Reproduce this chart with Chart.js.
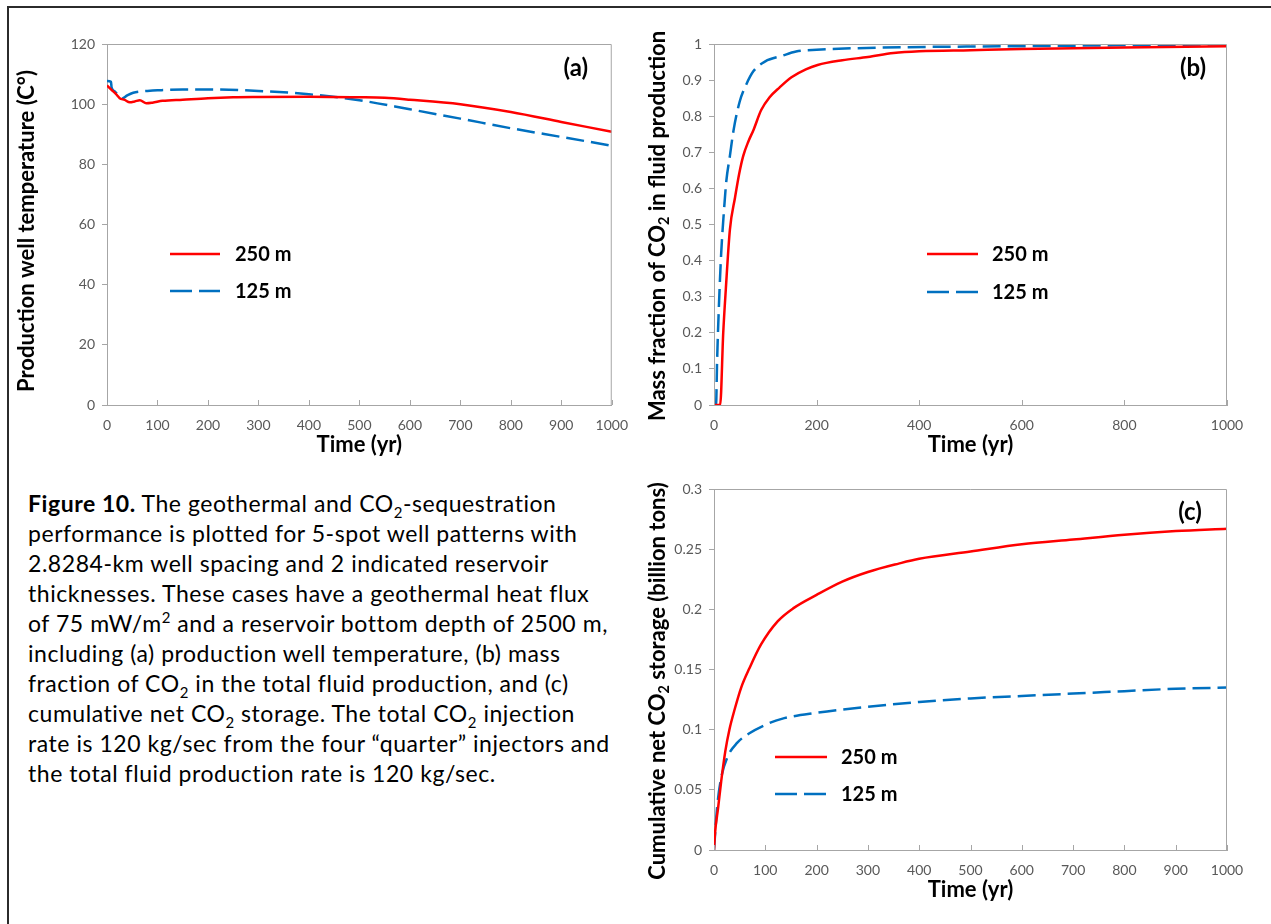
<!DOCTYPE html>
<html>
<head>
<meta charset="utf-8">
<script src="https://cdn.jsdelivr.net/npm/chart.js@4.4.1/dist/chart.umd.min.js"></script>
<style>
  body { margin: 0; background: #fff; width: 1271px; height: 924px; overflow: hidden; position: relative; font-family: Lato, "Open Sans", sans-serif; }
  .frame { position: absolute; left: 7px; top: 6px; width: 1400px; height: 1000px; border-top: 2px solid #2b2b2b; border-left: 2px solid #2b2b2b; }
  canvas { position: absolute; }
  #chartA { left: 0; top: 20px; }
  #chartB { left: 640px; top: 20px; }
  #chartC { left: 640px; top: 465px; }
  .caption { position: absolute; left: 28px; top: 488px; font-size: 23px; letter-spacing: 0.55px; line-height: 30px; color: #000; white-space: nowrap; }
  .caption sub, .caption sup { font-size: 65%; line-height: 0; }
</style>
</head>
<body>
<div class="frame"></div>
<canvas id="chartA" width="640" height="450"></canvas>
<canvas id="chartB" width="631" height="450"></canvas>
<canvas id="chartC" width="631" height="459"></canvas>
<div class="caption">
<b>Figure 10.</b> The geothermal and CO<sub>2</sub>-sequestration<br>
performance is plotted for 5-spot well patterns with<br>
2.8284-km well spacing and 2 indicated reservoir<br>
thicknesses. These cases have a geothermal heat flux<br>
of 75 mW/m<sup>2</sup> and a reservoir bottom depth of 2500 m,<br>
including (a) production well temperature, (b) mass<br>
fraction of CO<sub>2</sub> in the total fluid production, and (c)<br>
cumulative net CO<sub>2</sub> storage. The total CO<sub>2</sub> injection<br>
rate is 120 kg/sec from the four “quarter” injectors and<br>
the total fluid production rate is 120 kg/sec.
</div>
<script>
// (a) production well temperature, C
const tempTime250 = [0, 10, 18, 25, 35, 45, 55, 65, 78, 90, 110, 150, 200, 250, 300, 400, 500, 550, 600, 700, 800, 900, 1000];
const temp250 = [106.2, 104.6, 103.3, 102.0, 101.4, 100.6, 100.9, 101.3, 100.3, 100.5, 101.1, 101.5, 102.0, 102.3, 102.4, 102.5, 102.3, 102.1, 101.5, 100.0, 97.4, 94.1, 90.8];
const tempTime125 = [0, 8, 9, 15, 22, 30, 40, 52, 65, 80, 100, 150, 200, 300, 400, 500, 600, 700, 800, 900, 1000];
const temp125 = [107.7, 107.4, 105.6, 104.3, 103.0, 101.9, 102.9, 103.8, 104.2, 104.4, 104.6, 104.9, 104.9, 104.4, 103.3, 101.3, 98.3, 95.2, 92.0, 89.1, 86.2];

// (b) mass fraction of CO2 in fluid production
const fracTime250 = [0, 12, 18, 23, 31, 41, 49, 57, 67, 77, 92, 108, 128, 151, 179, 202, 250, 300, 350, 400, 500, 600, 800, 1000];
const frac250 = [0, 0, 0.2, 0.32, 0.486, 0.575, 0.64, 0.69, 0.73, 0.762, 0.817, 0.852, 0.88, 0.908, 0.93, 0.942, 0.955, 0.964, 0.975, 0.98, 0.983, 0.986, 0.99, 0.994];
const fracTime125 = [0, 4, 6, 10, 14, 19, 24, 31, 38, 50, 62, 77, 100, 132, 160, 200, 330, 600, 1000];
const frac125 = [0, 0, 0.12, 0.29, 0.42, 0.53, 0.62, 0.69, 0.76, 0.84, 0.885, 0.925, 0.952, 0.967, 0.979, 0.984, 0.99, 0.994, 0.999];

// (c) cumulative net CO2 storage, billion tons
const storTime250 = [0, 2, 8, 14, 22, 30, 41, 53, 69, 92, 124, 155, 200, 250, 300, 360, 400, 500, 600, 700, 800, 900, 1000];
const stor250 = [0, 0.014, 0.035, 0.057, 0.082, 0.1, 0.118, 0.135, 0.151, 0.171, 0.19, 0.201, 0.212, 0.223, 0.231, 0.238, 0.242, 0.248, 0.254, 0.258, 0.262, 0.265, 0.267];
const storTime125 = [0, 6, 14, 26, 45, 69, 100, 132, 200, 300, 400, 500, 600, 700, 800, 900, 1000];
const stor125 = [0, 0.035, 0.06, 0.077, 0.089, 0.097, 0.104, 0.109, 0.114, 0.119, 0.123, 0.126, 0.128, 0.13, 0.132, 0.134, 0.135];

const seriesNames = ["250 m", "125 m"];

const RED = "#ff0000";
const BLUE = "#0070c0";
const AXIS = "#a6a6a6";
const TICK = "#595959";
const FONT = "Lato, 'Open Sans', sans-serif";

function pts(xs, ys) {
  return xs.map((x, i) => ({ x: x, y: ys[i] }));
}

// draws text made of parts, some of them subscript, centred on (x, y)
function drawRich(ctx, parts, x, y, size) {
  let total = 0;
  parts.forEach((p) => {
    ctx.font = "bold " + (p.sub ? size * 0.65 : size) + "px " + FONT;
    p.w = ctx.measureText(p.t).width;
    total += p.w;
  });
  let cx = x - total / 2;
  ctx.textAlign = "left";
  ctx.textBaseline = "middle";
  parts.forEach((p) => {
    ctx.font = "bold " + (p.sub ? size * 0.65 : size) + "px " + FONT;
    ctx.fillText(p.t, cx, y + (p.sub ? size * 0.3 : 0));
    cx += p.w;
  });
}

const deco = {
  id: "deco",
  afterDraw(chart, args, o) {
    const ctx = chart.ctx;
    const a = chart.chartArea;
    ctx.save();
    // plot area border, top and right
    ctx.strokeStyle = AXIS;
    ctx.lineWidth = 1;
    ctx.beginPath();
    ctx.moveTo(a.left, a.top + 0.5);
    ctx.lineTo(a.right - 0.5, a.top + 0.5);
    ctx.lineTo(a.right - 0.5, a.bottom);
    ctx.stroke();
    // x tick marks point inward
    const xs = chart.scales.x;
    ctx.beginPath();
    xs.ticks.forEach((t) => {
      const px = Math.round(xs.getPixelForValue(t.value)) + 0.5;
      ctx.moveTo(px, a.bottom);
      ctx.lineTo(px, a.bottom - 5);
    });
    ctx.stroke();

    ctx.fillStyle = "#000";
    // y title
    ctx.save();
    ctx.translate(o.yTitleX, o.yTitleY);
    ctx.rotate(-Math.PI / 2);
    drawRich(ctx, o.yTitle, 0, 0, o.titleSize);
    ctx.restore();
    // x title
    drawRich(ctx, [{ t: "Time (yr)" }], (a.left + a.right) / 2, a.bottom + o.xTitleDy, o.titleSize);
    // panel label
    drawRich(ctx, [{ t: o.panel }], a.right - o.panelDx, a.top + o.panelDy, 24);

    // legend
    chart.data.datasets.forEach((ds, i) => {
      const y = a.top + o.legY[i];
      ctx.strokeStyle = ds.borderColor;
      ctx.lineWidth = ds.borderWidth;
      ctx.setLineDash(ds.borderDash ? [22, 7] : []);
      ctx.beginPath();
      ctx.moveTo(a.left + o.legX[0], y);
      ctx.lineTo(a.left + o.legX[1], y);
      ctx.stroke();
      ctx.setLineDash([]);
      ctx.fillStyle = "#000";
      ctx.font = "bold 20px " + FONT;
      ctx.textAlign = "left";
      ctx.textBaseline = "middle";
      ctx.fillText(ds.label, a.left + o.legX[2], y + 1);
    });
    ctx.restore();
  },
};

function makeChart(id, c) {
  return new Chart(document.getElementById(id), {
    type: "scatter",
    data: {
      datasets: [
        {
          label: seriesNames[0],
          data: pts(c.t1, c.v1),
          showLine: true,
          borderColor: RED,
          borderWidth: 2.5,
          pointRadius: 0,
          cubicInterpolationMode: "monotone",
        },
        {
          label: seriesNames[1],
          data: pts(c.t2, c.v2),
          showLine: true,
          borderColor: BLUE,
          borderWidth: 2.5,
          borderDash: [18, 7],
          pointRadius: 0,
          cubicInterpolationMode: "monotone",
        },
      ],
    },
    options: {
      responsive: false,
      animation: false,
      layout: { padding: c.pad },
      plugins: {
        legend: { display: false },
        tooltip: { enabled: false },
        deco: c.deco,
      },
      scales: {
        x: {
          type: "linear",
          min: 0,
          max: 1000,
          ticks: {
            stepSize: c.xStep,
            color: TICK,
            font: { family: FONT, size: 14 },
            padding: 12,
            maxRotation: 0,
            callback: (v) => String(v),
          },
          grid: { drawOnChartArea: false, drawTicks: false },
          border: { color: AXIS },
          afterFit: (s) => { s.height = c.xH; },
        },
        y: {
          min: c.yMin,
          max: c.yMax,
          ticks: {
            stepSize: c.yStep,
            color: TICK,
            font: { family: FONT, size: 14 },
            padding: 7,
            callback: (v) => String(+v.toFixed(2)),
          },
          grid: { drawOnChartArea: false, tickLength: 5, color: AXIS },
          border: { color: AXIS },
          afterFit: (s) => { s.width = c.yW; },
        },
      },
    },
    plugins: [deco],
  });
}

makeChart("chartA", {
  t1: tempTime250, v1: temp250, t2: tempTime125, v2: temp125,
  pad: { left: 0, top: 24, right: 19, bottom: 0 },
  xH: 65, yW: 107, xStep: 100, yMin: 0, yMax: 120, yStep: 20,
  deco: {
    yTitle: [{ t: "Production well temperature (C°)" }],
    yTitleX: 27, yTitleY: 211, titleSize: 22, xTitleDy: 40,
    panel: "(a)", panelDx: 36, panelDy: 24,
    legX: [63, 113, 128], legY: [210, 247],
  },
});

makeChart("chartB", {
  t1: fracTime250, v1: frac250, t2: fracTime125, v2: frac125,
  pad: { left: 0, top: 24, right: 44, bottom: 0 },
  xH: 65, yW: 74, xStep: 200, yMin: 0, yMax: 1, yStep: 0.1,
  deco: {
    yTitle: [{ t: "Mass fraction of CO" }, { t: "2", sub: true }, { t: " in fluid production" }],
    yTitleX: 18, yTitleY: 206, titleSize: 22, xTitleDy: 40,
    panel: "(b)", panelDx: 34, panelDy: 24,
    legX: [213, 264, 278], legY: [210, 248],
  },
});

makeChart("chartC", {
  t1: storTime250, v1: stor250, t2: storTime125, v2: stor125,
  pad: { left: 0, top: 24, right: 44, bottom: 0 },
  xH: 74, yW: 74, xStep: 100, yMin: 0, yMax: 0.3, yStep: 0.05,
  deco: {
    yTitle: [{ t: "Cumulative net CO" }, { t: "2", sub: true }, { t: " storage (billion tons)" }],
    yTitleX: 18, yTitleY: 216, titleSize: 22, xTitleDy: 40,
    panel: "(c)", panelDx: 37, panelDy: 23,
    legX: [61, 113, 127], legY: [268, 305],
  },
});
</script>
</body>
</html>
